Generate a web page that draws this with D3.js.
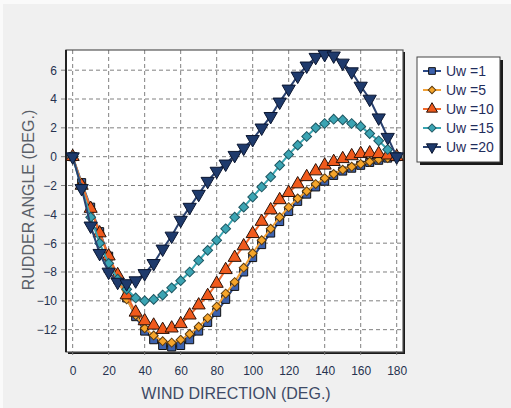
<meta charset="utf-8">
<style>
body { margin: 0; background: #f0f0f0; }
text { font-family: "Liberation Sans", Arial, sans-serif; }
.grid line { stroke: #808080; stroke-dasharray: 4,3; stroke-width: 1; }
</style>
<body>
<script src="https://d3js.org/d3.v7.min.js"></script>
<script>
// wind direction (deg.)
var angles = [0,5,10,15,20,25,30,35,40,45,50,55,60,65,70,75,80,85,90,
              95,100,105,110,115,120,125,130,135,140,145,150,155,160,165,170,175,180];

// rudder angle (deg.) for each wind speed
var uw1  = [0,-1.8,-3.5,-5.2,-6.9,-8.5,-9.8,-11.1,-12.1,-12.7,-13.1,-13.2,-13.1,-12.7,-12.1,-11.5,-10.8,-9.9,-9.0,
            -8.0,-7.0,-6.1,-5.3,-4.5,-3.8,-3.1,-2.6,-2.1,-1.7,-1.3,-1.0,-0.8,-0.6,-0.4,-0.25,-0.1,0];
var uw5  = [0,-1.9,-3.6,-5.3,-7.0,-8.5,-9.9,-11.0,-11.9,-12.4,-12.8,-12.9,-12.7,-12.3,-11.8,-11.2,-10.4,-9.5,-8.7,
            -7.7,-6.7,-5.8,-5.0,-4.2,-3.5,-2.9,-2.4,-1.9,-1.5,-1.2,-0.9,-0.7,-0.5,-0.35,-0.2,-0.1,0];
var uw10 = [0,-2.0,-3.6,-5.3,-6.9,-8.2,-9.6,-10.8,-11.4,-11.7,-12.0,-11.9,-11.6,-11.0,-10.3,-9.65,-8.8,-7.85,-7.0,
            -6.2,-5.35,-4.5,-3.7,-3.0,-2.5,-1.9,-1.4,-1.0,-0.6,-0.35,-0.15,0.05,0.2,0.25,0.2,0.1,0];
var uw15 = [0,-2.2,-4.2,-6.0,-7.4,-8.5,-9.2,-9.8,-10.0,-9.9,-9.6,-9.1,-8.6,-8.0,-7.2,-6.5,-5.8,-5.0,-4.2,
            -3.5,-2.8,-2.1,-1.4,-0.6,0.15,0.8,1.4,2.0,2.3,2.6,2.55,2.3,2.1,1.6,1.1,0.5,0];
var uw20 = [0,-2.2,-4.8,-6.7,-8.0,-8.7,-8.8,-8.6,-8.1,-7.4,-6.4,-5.5,-4.4,-3.5,-2.6,-1.7,-1.0,-0.5,0.1,
            0.6,1.2,2.0,2.8,3.8,4.7,5.6,6.3,6.9,7.1,7.0,6.5,5.9,4.9,4.0,2.7,1.35,0];

var seriesNames = ["Uw =1", "Uw =5", "Uw =10", "Uw =15", "Uw =20"];
var seriesValues = [uw1, uw5, uw10, uw15, uw20];

var xTicks = [0,20,40,60,80,100,120,140,160,180];
var yTicks = [-12,-10,-8,-6,-4,-2,0,2,4,6];

var styles = [
  {shape: d3.symbolSquare,   size: 64, rot: 0,   fill: "#3d62ae", stroke: "#101010", line: "#2c4a88"},
  {shape: d3.symbolSquare,   size: 40, rot: 45,  fill: "#f6a52a", stroke: "#5a3a10", line: "#f2a238"},
  {shape: d3.symbolTriangle, size: 74, rot: 0,   fill: "#f05a1c", stroke: "#2a1208", line: "#f26a2c"},
  {shape: d3.symbolSquare,   size: 48, rot: 45,  fill: "#3ba4b3", stroke: "#1d5560", line: "#3aa6b3"},
  {shape: d3.symbolTriangle, size: 76, rot: 180, fill: "#1e3a6c", stroke: "#0b1630", line: "#2a4270"}
];

var W = 511, H = 408;
var pLeft = 66, pRight = 403, pTop = 50, pBottom = 352;

var svg = d3.select("body").append("svg")
    .attr("width", W)
    .attr("height", H);

svg.append("rect").attr("width", W).attr("height", H).attr("fill", "#fafafa");
svg.append("rect").attr("x", 3).attr("y", 4).attr("width", W - 3).attr("height", H - 4)
    .attr("fill", "#f0f0f0");

var x = d3.scaleLinear().domain([-3.7, 183.5]).range([pLeft, pRight]);
var y = d3.scaleLinear().domain([-13.55, 7.4]).range([pBottom, pTop]);

// plot shadow + background
svg.append("rect").attr("x", pLeft + 2).attr("y", pTop + 2)
    .attr("width", pRight - pLeft).attr("height", pBottom - pTop).attr("fill", "#1a1a1a");
svg.append("rect").attr("x", pLeft).attr("y", pTop)
    .attr("width", pRight - pLeft).attr("height", pBottom - pTop).attr("fill", "#fff");

// grid
svg.append("g").attr("class", "grid")
  .selectAll("line").data(xTicks).enter().append("line")
    .attr("x1", d => x(d)).attr("x2", d => x(d))
    .attr("y1", pTop).attr("y2", pBottom + 6);
svg.append("g").attr("class", "grid")
  .selectAll("line").data(yTicks).enter().append("line")
    .attr("x1", pLeft - 5).attr("x2", pRight)
    .attr("y1", d => y(d)).attr("y2", d => y(d));

// frame
svg.append("rect").attr("x", pLeft).attr("y", pTop)
    .attr("width", pRight - pLeft).attr("height", pBottom - pTop)
    .attr("fill", "none").attr("stroke", "#555").attr("stroke-width", 1.2);
svg.append("line").attr("x1", pLeft).attr("x2", pLeft).attr("y1", pTop).attr("y2", pBottom)
    .attr("stroke", "#222").attr("stroke-width", 2);

// axes labels
var xAxis = svg.append("g")
    .attr("transform", "translate(0," + (pBottom + 6) + ")")
    .call(d3.axisBottom(x).tickValues(xTicks).tickSize(0).tickPadding(8));
var yAxis = svg.append("g")
    .attr("transform", "translate(" + (pLeft - 6) + ",0)")
    .call(d3.axisLeft(y).tickValues(yTicks).tickSize(0).tickPadding(3).tickFormat(d3.format("d")));
[xAxis, yAxis].forEach(function(g) {
  g.select(".domain").remove();
  g.selectAll("text")
    .style("font-family", "'Liberation Sans', Arial, sans-serif")
    .style("font-size", "12px")
    .attr("fill", "#26324f");
});

// series
var line = d3.line()
    .x(function(d) { return x(d[0]); })
    .y(function(d) { return y(d[1]); });

seriesValues.forEach(function(vals, i) {
  var st = styles[i];
  var pts = angles.map(function(a, j) { return [a, vals[j]]; });
  var g = svg.append("g");
  g.append("path").datum(pts)
    .attr("d", line)
    .attr("fill", "none")
    .attr("stroke", st.line)
    .attr("stroke-width", 2);
  g.selectAll("path.m").data(pts).enter().append("path")
    .attr("class", "m")
    .attr("d", d3.symbol().type(st.shape).size(st.size))
    .attr("transform", function(d) {
      return "translate(" + x(d[0]) + "," + y(d[1]) + ") rotate(" + st.rot + ")";
    })
    .attr("fill", st.fill)
    .attr("stroke", st.stroke)
    .attr("stroke-width", 1);
});

// axis titles
svg.append("text")
    .attr("x", 236).attr("y", 399)
    .attr("text-anchor", "middle")
    .style("font-size", "16px")
    .attr("fill", "#3e4a66")
    .text("WIND DIRECTION (DEG.)");

svg.append("text")
    .attr("transform", "translate(34,200) rotate(-90)")
    .attr("text-anchor", "middle")
    .style("font-size", "16px")
    .attr("fill", "#5a5f68")
    .text("RUDDER ANGLE (DEG.)");

// legend
var lg = svg.append("g");
lg.append("rect").attr("x", 420).attr("y", 60).attr("width", 83).attr("height", 105)
    .attr("fill", "#1a1a1a");
lg.append("rect").attr("x", 417).attr("y", 57).attr("width", 83).attr("height", 105)
    .attr("fill", "#fff").attr("stroke", "#444").attr("stroke-width", 1);

seriesNames.forEach(function(name, i) {
  var st = styles[i];
  var ly = 71 + i * 19;
  lg.append("line").attr("x1", 423).attr("x2", 441).attr("y1", ly).attr("y2", ly)
    .attr("stroke", st.line).attr("stroke-width", 2);
  lg.append("path")
    .attr("d", d3.symbol().type(st.shape).size(st.size * 0.7))
    .attr("transform", "translate(432," + ly + ") rotate(" + st.rot + ")")
    .attr("fill", st.fill).attr("stroke", st.stroke);
  lg.append("text")
    .attr("x", 446).attr("y", ly + 5)
    .style("font-size", "14px")
    .attr("fill", "#1f2d5c")
    .text(name);
});
</script>
</body>
